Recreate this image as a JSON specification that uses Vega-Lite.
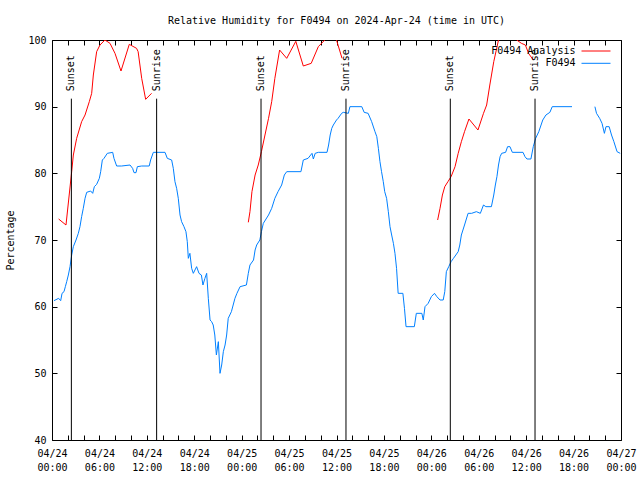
{
  "$schema": "https://vega.github.io/schema/vega-lite/v6.json",
  "width": 569,
  "height": 400,
  "autosize": {"type": "none"},
  "padding": {"left": 52, "top": 40, "right": 19, "bottom": 40},
  "background": "white",
  "title": {"text": "Relative Humidity for F0494 on 2024-Apr-24 (time in UTC)", "font": "DejaVu Sans Mono", "fontSize": 10, "fontWeight": "normal", "anchor": "middle", "offset": 9, "color": "black"},
  "config": {
    "view": {"stroke": "black", "strokeWidth": 1},
    "axis": {"grid": false, "domain": false, "labelFont": "DejaVu Sans Mono", "labelFontSize": 10, "labelColor": "black", "titleFont": "DejaVu Sans Mono", "titleFontSize": 10, "titleFontWeight": "normal", "titleColor": "black", "tickColor": "black", "tickWidth": 1},
    "legend": {"orient": "none", "legendX": 538.5, "legendY": 5.5, "symbolType": "M-2.9,0L2.9,0", "symbolSize": 100, "symbolStrokeWidth": 1, "labelAlign": "right", "labelOffset": -26, "labelFont": "DejaVu Sans Mono", "labelFontSize": 10, "labelColor": "black", "rowPadding": 1.3, "padding": 0}
  },
  "datasets": {
    "series": [
      {"s": "F0494", "g": "b1", "h": 0.25, "v": 60.9}, {"s": "F0494", "g": "b1", "h": 0.84, "v": 61.25}, {"s": "F0494", "g": "b1", "h": 1.1, "v": 60.9}, {"s": "F0494", "g": "b1", "h": 1.27, "v": 62},
      {"s": "F0494", "g": "b1", "h": 1.52, "v": 62.25}, {"s": "F0494", "g": "b1", "h": 1.69, "v": 63}, {"s": "F0494", "g": "b1", "h": 1.86, "v": 63.75}, {"s": "F0494", "g": "b1", "h": 2.07, "v": 64.75},
      {"s": "F0494", "g": "b1", "h": 2.28, "v": 66}, {"s": "F0494", "g": "b1", "h": 2.49, "v": 67.75}, {"s": "F0494", "g": "b1", "h": 2.7, "v": 69}, {"s": "F0494", "g": "b1", "h": 3.04, "v": 70},
      {"s": "F0494", "g": "b1", "h": 3.33, "v": 71}, {"s": "F0494", "g": "b1", "h": 3.54, "v": 72}, {"s": "F0494", "g": "b1", "h": 3.75, "v": 73.5}, {"s": "F0494", "g": "b1", "h": 3.96, "v": 74.75},
      {"s": "F0494", "g": "b1", "h": 4.18, "v": 76.25}, {"s": "F0494", "g": "b1", "h": 4.39, "v": 77.15}, {"s": "F0494", "g": "b1", "h": 4.89, "v": 77.35}, {"s": "F0494", "g": "b1", "h": 5.15, "v": 77},
      {"s": "F0494", "g": "b1", "h": 5.36, "v": 78}, {"s": "F0494", "g": "b1", "h": 5.65, "v": 78.35}, {"s": "F0494", "g": "b1", "h": 5.99, "v": 79.25}, {"s": "F0494", "g": "b1", "h": 6.16, "v": 80.25},
      {"s": "F0494", "g": "b1", "h": 6.37, "v": 82}, {"s": "F0494", "g": "b1", "h": 6.58, "v": 82.25}, {"s": "F0494", "g": "b1", "h": 7.0, "v": 83}, {"s": "F0494", "g": "b1", "h": 7.68, "v": 83.15},
      {"s": "F0494", "g": "b1", "h": 7.84, "v": 82.25}, {"s": "F0494", "g": "b1", "h": 8.18, "v": 81.1}, {"s": "F0494", "g": "b1", "h": 8.81, "v": 81.1}, {"s": "F0494", "g": "b1", "h": 9.87, "v": 81.25},
      {"s": "F0494", "g": "b1", "h": 10.2, "v": 80.75}, {"s": "F0494", "g": "b1", "h": 10.38, "v": 80.1}, {"s": "F0494", "g": "b1", "h": 10.63, "v": 80.1}, {"s": "F0494", "g": "b1", "h": 10.8, "v": 81},
      {"s": "F0494", "g": "b1", "h": 11.35, "v": 81.1}, {"s": "F0494", "g": "b1", "h": 12.3, "v": 81.1}, {"s": "F0494", "g": "b1", "h": 12.48, "v": 82}, {"s": "F0494", "g": "b1", "h": 12.82, "v": 83.15},
      {"s": "F0494", "g": "b1", "h": 14.3, "v": 83.15}, {"s": "F0494", "g": "b1", "h": 14.59, "v": 82.25}, {"s": "F0494", "g": "b1", "h": 15.14, "v": 82}, {"s": "F0494", "g": "b1", "h": 15.35, "v": 80.75},
      {"s": "F0494", "g": "b1", "h": 15.56, "v": 78.75}, {"s": "F0494", "g": "b1", "h": 15.77, "v": 77.75}, {"s": "F0494", "g": "b1", "h": 15.98, "v": 76.25}, {"s": "F0494", "g": "b1", "h": 16.2, "v": 73.75},
      {"s": "F0494", "g": "b1", "h": 16.4, "v": 72.75}, {"s": "F0494", "g": "b1", "h": 16.7, "v": 72}, {"s": "F0494", "g": "b1", "h": 16.95, "v": 71.25}, {"s": "F0494", "g": "b1", "h": 17.12, "v": 69.75},
      {"s": "F0494", "g": "b1", "h": 17.25, "v": 67.25}, {"s": "F0494", "g": "b1", "h": 17.45, "v": 68}, {"s": "F0494", "g": "b1", "h": 17.67, "v": 65.75}, {"s": "F0494", "g": "b1", "h": 17.88, "v": 65},
      {"s": "F0494", "g": "b1", "h": 18.3, "v": 66}, {"s": "F0494", "g": "b1", "h": 18.6, "v": 65}, {"s": "F0494", "g": "b1", "h": 18.9, "v": 64.75}, {"s": "F0494", "g": "b1", "h": 19.1, "v": 63.25},
      {"s": "F0494", "g": "b1", "h": 19.35, "v": 64.25}, {"s": "F0494", "g": "b1", "h": 19.57, "v": 65}, {"s": "F0494", "g": "b1", "h": 19.78, "v": 61.25}, {"s": "F0494", "g": "b1", "h": 20.0, "v": 58},
      {"s": "F0494", "g": "b1", "h": 20.2, "v": 57.75}, {"s": "F0494", "g": "b1", "h": 20.4, "v": 57.25}, {"s": "F0494", "g": "b1", "h": 20.6, "v": 55.75}, {"s": "F0494", "g": "b1", "h": 20.8, "v": 52.75},
      {"s": "F0494", "g": "b1", "h": 21.05, "v": 54.75}, {"s": "F0494", "g": "b1", "h": 21.26, "v": 50}, {"s": "F0494", "g": "b1", "h": 21.47, "v": 51.25}, {"s": "F0494", "g": "b1", "h": 21.68, "v": 53.25},
      {"s": "F0494", "g": "b1", "h": 21.9, "v": 54.25}, {"s": "F0494", "g": "b1", "h": 22.1, "v": 55.75}, {"s": "F0494", "g": "b1", "h": 22.3, "v": 58.25}, {"s": "F0494", "g": "b1", "h": 22.7, "v": 59.25},
      {"s": "F0494", "g": "b1", "h": 23.15, "v": 61.25}, {"s": "F0494", "g": "b1", "h": 23.4, "v": 62}, {"s": "F0494", "g": "b1", "h": 23.8, "v": 63}, {"s": "F0494", "g": "b1", "h": 24.6, "v": 63.25},
      {"s": "F0494", "g": "b1", "h": 24.84, "v": 65}, {"s": "F0494", "g": "b1", "h": 25.05, "v": 66.25}, {"s": "F0494", "g": "b1", "h": 25.5, "v": 67}, {"s": "F0494", "g": "b1", "h": 25.7, "v": 68.5},
      {"s": "F0494", "g": "b1", "h": 25.9, "v": 69.25}, {"s": "F0494", "g": "b1", "h": 26.3, "v": 70}, {"s": "F0494", "g": "b1", "h": 26.5, "v": 71.25}, {"s": "F0494", "g": "b1", "h": 26.74, "v": 72.5},
      {"s": "F0494", "g": "b1", "h": 27.4, "v": 73.75}, {"s": "F0494", "g": "b1", "h": 27.8, "v": 74.75}, {"s": "F0494", "g": "b1", "h": 28.2, "v": 76.25}, {"s": "F0494", "g": "b1", "h": 28.6, "v": 77.25},
      {"s": "F0494", "g": "b1", "h": 29.06, "v": 78.25}, {"s": "F0494", "g": "b1", "h": 29.4, "v": 79.75}, {"s": "F0494", "g": "b1", "h": 29.7, "v": 80.25}, {"s": "F0494", "g": "b1", "h": 31.5, "v": 80.25},
      {"s": "F0494", "g": "b1", "h": 31.8, "v": 82}, {"s": "F0494", "g": "b1", "h": 32.4, "v": 82.25}, {"s": "F0494", "g": "b1", "h": 32.9, "v": 83}, {"s": "F0494", "g": "b1", "h": 33.07, "v": 82.15},
      {"s": "F0494", "g": "b1", "h": 33.3, "v": 83}, {"s": "F0494", "g": "b1", "h": 33.7, "v": 83.15}, {"s": "F0494", "g": "b1", "h": 34.8, "v": 83.15}, {"s": "F0494", "g": "b1", "h": 35.0, "v": 84.25},
      {"s": "F0494", "g": "b1", "h": 35.2, "v": 85.75}, {"s": "F0494", "g": "b1", "h": 35.4, "v": 86.75}, {"s": "F0494", "g": "b1", "h": 35.6, "v": 87.25}, {"s": "F0494", "g": "b1", "h": 36.0, "v": 88},
      {"s": "F0494", "g": "b1", "h": 36.2, "v": 88.25}, {"s": "F0494", "g": "b1", "h": 36.65, "v": 89}, {"s": "F0494", "g": "b1", "h": 36.86, "v": 89.15}, {"s": "F0494", "g": "b1", "h": 37.5, "v": 89},
      {"s": "F0494", "g": "b1", "h": 37.7, "v": 90}, {"s": "F0494", "g": "b1", "h": 39.2, "v": 90}, {"s": "F0494", "g": "b1", "h": 39.5, "v": 89.15}, {"s": "F0494", "g": "b1", "h": 40.0, "v": 89},
      {"s": "F0494", "g": "b1", "h": 40.45, "v": 87.75}, {"s": "F0494", "g": "b1", "h": 40.87, "v": 86.25}, {"s": "F0494", "g": "b1", "h": 41.1, "v": 85.5}, {"s": "F0494", "g": "b1", "h": 41.3, "v": 83.75},
      {"s": "F0494", "g": "b1", "h": 41.5, "v": 81.75}, {"s": "F0494", "g": "b1", "h": 41.7, "v": 80.25}, {"s": "F0494", "g": "b1", "h": 41.92, "v": 78.75}, {"s": "F0494", "g": "b1", "h": 42.1, "v": 77.25},
      {"s": "F0494", "g": "b1", "h": 42.34, "v": 76.25}, {"s": "F0494", "g": "b1", "h": 42.56, "v": 74.25}, {"s": "F0494", "g": "b1", "h": 42.77, "v": 72}, {"s": "F0494", "g": "b1", "h": 42.98, "v": 70.75},
      {"s": "F0494", "g": "b1", "h": 43.2, "v": 69.5}, {"s": "F0494", "g": "b1", "h": 43.4, "v": 68}, {"s": "F0494", "g": "b1", "h": 43.6, "v": 65.75}, {"s": "F0494", "g": "b1", "h": 43.8, "v": 62},
      {"s": "F0494", "g": "b1", "h": 44.4, "v": 62}, {"s": "F0494", "g": "b1", "h": 44.6, "v": 59.75}, {"s": "F0494", "g": "b1", "h": 44.8, "v": 57}, {"s": "F0494", "g": "b1", "h": 45.85, "v": 57},
      {"s": "F0494", "g": "b1", "h": 46.1, "v": 59}, {"s": "F0494", "g": "b1", "h": 46.8, "v": 59}, {"s": "F0494", "g": "b1", "h": 46.98, "v": 58}, {"s": "F0494", "g": "b1", "h": 47.2, "v": 60},
      {"s": "F0494", "g": "b1", "h": 47.6, "v": 60.5}, {"s": "F0494", "g": "b1", "h": 48.0, "v": 61.5}, {"s": "F0494", "g": "b1", "h": 48.4, "v": 62}, {"s": "F0494", "g": "b1", "h": 48.7, "v": 61.5},
      {"s": "F0494", "g": "b1", "h": 49.1, "v": 61}, {"s": "F0494", "g": "b1", "h": 49.5, "v": 61}, {"s": "F0494", "g": "b1", "h": 49.7, "v": 62.25}, {"s": "F0494", "g": "b1", "h": 49.9, "v": 65.25},
      {"s": "F0494", "g": "b1", "h": 50.2, "v": 66}, {"s": "F0494", "g": "b1", "h": 50.5, "v": 66.75}, {"s": "F0494", "g": "b1", "h": 50.8, "v": 67.25}, {"s": "F0494", "g": "b1", "h": 51.1, "v": 67.75},
      {"s": "F0494", "g": "b1", "h": 51.4, "v": 68.25}, {"s": "F0494", "g": "b1", "h": 51.6, "v": 69.25}, {"s": "F0494", "g": "b1", "h": 51.8, "v": 70.75}, {"s": "F0494", "g": "b1", "h": 52.2, "v": 72.25},
      {"s": "F0494", "g": "b1", "h": 52.65, "v": 74}, {"s": "F0494", "g": "b1", "h": 53.1, "v": 74}, {"s": "F0494", "g": "b1", "h": 53.7, "v": 74.25}, {"s": "F0494", "g": "b1", "h": 54.2, "v": 74},
      {"s": "F0494", "g": "b1", "h": 54.6, "v": 75.25}, {"s": "F0494", "g": "b1", "h": 54.9, "v": 75}, {"s": "F0494", "g": "b1", "h": 55.6, "v": 75}, {"s": "F0494", "g": "b1", "h": 55.9, "v": 76.75},
      {"s": "F0494", "g": "b1", "h": 56.1, "v": 78.25}, {"s": "F0494", "g": "b1", "h": 56.3, "v": 79.5}, {"s": "F0494", "g": "b1", "h": 56.5, "v": 81.25}, {"s": "F0494", "g": "b1", "h": 56.7, "v": 82.5},
      {"s": "F0494", "g": "b1", "h": 56.9, "v": 83}, {"s": "F0494", "g": "b1", "h": 57.4, "v": 83.15}, {"s": "F0494", "g": "b1", "h": 57.65, "v": 84}, {"s": "F0494", "g": "b1", "h": 57.95, "v": 84},
      {"s": "F0494", "g": "b1", "h": 58.25, "v": 83.15}, {"s": "F0494", "g": "b1", "h": 59.6, "v": 83.15}, {"s": "F0494", "g": "b1", "h": 59.85, "v": 82.5}, {"s": "F0494", "g": "b1", "h": 60.1, "v": 82.15},
      {"s": "F0494", "g": "b1", "h": 60.6, "v": 82.15}, {"s": "F0494", "g": "b1", "h": 60.9, "v": 84}, {"s": "F0494", "g": "b1", "h": 61.2, "v": 85.25}, {"s": "F0494", "g": "b1", "h": 61.6, "v": 86.25},
      {"s": "F0494", "g": "b1", "h": 62.1, "v": 88}, {"s": "F0494", "g": "b1", "h": 62.5, "v": 88.75}, {"s": "F0494", "g": "b1", "h": 63.0, "v": 89.15}, {"s": "F0494", "g": "b1", "h": 63.3, "v": 90},
      {"s": "F0494", "g": "b1", "h": 65.8, "v": 90},
      {"s": "F0494", "g": "b2", "h": 68.7, "v": 90}, {"s": "F0494", "g": "b2", "h": 68.9, "v": 89}, {"s": "F0494", "g": "b2", "h": 69.3, "v": 88.25}, {"s": "F0494", "g": "b2", "h": 69.6, "v": 87.5},
      {"s": "F0494", "g": "b2", "h": 69.9, "v": 86}, {"s": "F0494", "g": "b2", "h": 70.1, "v": 87}, {"s": "F0494", "g": "b2", "h": 70.5, "v": 87}, {"s": "F0494", "g": "b2", "h": 70.8, "v": 85.75},
      {"s": "F0494", "g": "b2", "h": 71.1, "v": 84.75}, {"s": "F0494", "g": "b2", "h": 71.5, "v": 83.25}, {"s": "F0494", "g": "b2", "h": 71.9, "v": 83},
      {"s": "F0494 Analysis", "g": "r1", "h": 0.84, "v": 73.15}, {"s": "F0494 Analysis", "g": "r1", "h": 1.77, "v": 72.25}, {"s": "F0494 Analysis", "g": "r1", "h": 2.49, "v": 80.25}, {"s": "F0494 Analysis", "g": "r1", "h": 2.7, "v": 82.75},
      {"s": "F0494 Analysis", "g": "r1", "h": 3.12, "v": 85.25}, {"s": "F0494 Analysis", "g": "r1", "h": 3.75, "v": 87.75}, {"s": "F0494 Analysis", "g": "r1", "h": 4.18, "v": 88.75}, {"s": "F0494 Analysis", "g": "r1", "h": 4.72, "v": 90.75},
      {"s": "F0494 Analysis", "g": "r1", "h": 5.02, "v": 92}, {"s": "F0494 Analysis", "g": "r1", "h": 5.23, "v": 94.75}, {"s": "F0494 Analysis", "g": "r1", "h": 5.65, "v": 98.25}, {"s": "F0494 Analysis", "g": "r1", "h": 6.07, "v": 99.25},
      {"s": "F0494 Analysis", "g": "r1", "h": 6.7, "v": 100}, {"s": "F0494 Analysis", "g": "r1", "h": 7.34, "v": 99.5}, {"s": "F0494 Analysis", "g": "r1", "h": 7.97, "v": 98}, {"s": "F0494 Analysis", "g": "r1", "h": 8.73, "v": 95.35},
      {"s": "F0494 Analysis", "g": "r1", "h": 9.78, "v": 99.35}, {"s": "F0494 Analysis", "g": "r1", "h": 10.7, "v": 98.75}, {"s": "F0494 Analysis", "g": "r1", "h": 10.9, "v": 98.25}, {"s": "F0494 Analysis", "g": "r1", "h": 11.35, "v": 94.25},
      {"s": "F0494 Analysis", "g": "r1", "h": 11.85, "v": 91.1}, {"s": "F0494 Analysis", "g": "r1", "h": 12.6, "v": 92},
      {"s": "F0494 Analysis", "g": "r2", "h": 24.84, "v": 72.65}, {"s": "F0494 Analysis", "g": "r2", "h": 25.05, "v": 74.25}, {"s": "F0494 Analysis", "g": "r2", "h": 25.3, "v": 77.25}, {"s": "F0494 Analysis", "g": "r2", "h": 25.7, "v": 79.75},
      {"s": "F0494 Analysis", "g": "r2", "h": 26.1, "v": 81.25}, {"s": "F0494 Analysis", "g": "r2", "h": 26.5, "v": 83.25}, {"s": "F0494 Analysis", "g": "r2", "h": 26.95, "v": 85.75}, {"s": "F0494 Analysis", "g": "r2", "h": 27.4, "v": 88.25},
      {"s": "F0494 Analysis", "g": "r2", "h": 27.8, "v": 90.75}, {"s": "F0494 Analysis", "g": "r2", "h": 28.2, "v": 94.25}, {"s": "F0494 Analysis", "g": "r2", "h": 28.8, "v": 98.5}, {"s": "F0494 Analysis", "g": "r2", "h": 29.7, "v": 97.25},
      {"s": "F0494 Analysis", "g": "r2", "h": 30.85, "v": 99.8}, {"s": "F0494 Analysis", "g": "r2", "h": 31.8, "v": 96.1}, {"s": "F0494 Analysis", "g": "r2", "h": 32.8, "v": 96.5}, {"s": "F0494 Analysis", "g": "r2", "h": 33.7, "v": 99},
      {"s": "F0494 Analysis", "g": "r2", "h": 34.6, "v": 100.1}, {"s": "F0494 Analysis", "g": "r2", "h": 35.3, "v": 100.5}, {"s": "F0494 Analysis", "g": "r2", "h": 36.0, "v": 100}, {"s": "F0494 Analysis", "g": "r2", "h": 36.7, "v": 97.25},
      {"s": "F0494 Analysis", "g": "r3", "h": 48.8, "v": 73}, {"s": "F0494 Analysis", "g": "r3", "h": 49.1, "v": 74.75}, {"s": "F0494 Analysis", "g": "r3", "h": 49.4, "v": 76.75}, {"s": "F0494 Analysis", "g": "r3", "h": 49.7, "v": 78},
      {"s": "F0494 Analysis", "g": "r3", "h": 50.1, "v": 78.75}, {"s": "F0494 Analysis", "g": "r3", "h": 50.5, "v": 79.5}, {"s": "F0494 Analysis", "g": "r3", "h": 51.0, "v": 81}, {"s": "F0494 Analysis", "g": "r3", "h": 51.4, "v": 83},
      {"s": "F0494 Analysis", "g": "r3", "h": 51.8, "v": 84.75}, {"s": "F0494 Analysis", "g": "r3", "h": 52.2, "v": 86.25}, {"s": "F0494 Analysis", "g": "r3", "h": 52.76, "v": 88.15}, {"s": "F0494 Analysis", "g": "r3", "h": 53.9, "v": 86.5},
      {"s": "F0494 Analysis", "g": "r3", "h": 54.6, "v": 89}, {"s": "F0494 Analysis", "g": "r3", "h": 55.0, "v": 90.25}, {"s": "F0494 Analysis", "g": "r3", "h": 55.4, "v": 93.25}, {"s": "F0494 Analysis", "g": "r3", "h": 55.9, "v": 96.75},
      {"s": "F0494 Analysis", "g": "r3", "h": 56.5, "v": 100}, {"s": "F0494 Analysis", "g": "r3", "h": 57.6, "v": 101.5}, {"s": "F0494 Analysis", "g": "r3", "h": 58.8, "v": 100}, {"s": "F0494 Analysis", "g": "r3", "h": 59.4, "v": 99.5},
      {"s": "F0494 Analysis", "g": "r3", "h": 59.9, "v": 99.25}, {"s": "F0494 Analysis", "g": "r3", "h": 60.3, "v": 98}, {"s": "F0494 Analysis", "g": "r3", "h": 60.9, "v": 97}
    ],
    "sun": [
      {"label": "Sunset", "h": 2.45}, {"label": "Sunrise", "h": 13.24},
      {"label": "Sunset", "h": 26.45}, {"label": "Sunrise", "h": 37.2},
      {"label": "Sunset", "h": 50.4}, {"label": "Sunrise", "h": 61.12}
    ]
  },
  "layer": [
    {
      "data": {"name": "series"},
      "mark": {"type": "line", "clip": true, "strokeWidth": 1},
      "encoding": {
        "x": {"field": "h", "type": "quantitative", "scale": {"domain": [0, 72], "nice": false, "zero": false},
          "axis": {"orient": "bottom", "values": [0, 6, 12, 18, 24, 30, 36, 42, 48, 54, 60, 66, 72], "ticks": false, "labelPadding": 8, "labelBaseline": "top", "labelLineHeight": 14, "labelFlush": false, "labelOverlap": false, "labelAlign": "center", "title": null,
            "labelExpr": "['04/' + (24 + floor(datum.value / 24)), (datum.value % 24 < 10 ? '0' : '') + (datum.value % 24) + ':00']"}},
        "y": {"field": "v", "type": "quantitative", "scale": {"domain": [40, 100], "nice": false, "zero": false},
          "axis": {"orient": "left", "values": [40, 50, 60, 70, 80, 90, 100], "ticks": false, "labelPadding": 6, "title": "Percentage", "titlePadding": 12}},
        "color": {"field": "s", "type": "nominal", "scale": {"domain": ["F0494 Analysis", "F0494"], "range": ["#ff0000", "#0080ff"]}, "legend": {"title": null}},
        "detail": {"field": "g"}
      }
    },
    {
      "data": {"name": "sun"},
      "mark": {"type": "rule", "color": "black", "strokeWidth": 1},
      "encoding": {
        "x": {"field": "h", "type": "quantitative", "scale": {"domain": [0, 72], "nice": false, "zero": false},
          "axis": {"orient": "bottom", "values": [0, 2, 4, 6, 8, 10, 12, 14, 16, 18, 20, 22, 24, 26, 28, 30, 32, 34, 36, 38, 40, 42, 44, 46, 48, 50, 52, 54, 56, 58, 60, 62, 64, 66, 68, 70, 72], "labels": false, "offset": -5, "tickSize": 5, "title": null}},
        "y": {"datum": 91.2, "type": "quantitative", "scale": {"domain": [40, 100], "nice": false, "zero": false},
          "axis": {"orient": "left", "values": [40, 50, 60, 70, 80, 90, 100], "labels": false, "offset": -5, "tickSize": 5, "title": null}},
        "y2": {"datum": 40}
      }
    },
    {
      "data": {"name": "sun"},
      "mark": {"type": "text", "angle": 270, "align": "left", "baseline": "middle", "font": "DejaVu Sans Mono", "fontSize": 10, "color": "black"},
      "encoding": {
        "x": {"field": "h", "type": "quantitative", "scale": {"domain": [0, 72], "nice": false, "zero": false},
          "axis": {"orient": "top", "values": [0, 2, 4, 6, 8, 10, 12, 14, 16, 18, 20, 22, 24, 26, 28, 30, 32, 34, 36, 38, 40, 42, 44, 46, 48, 50, 52, 54, 56, 58, 60, 62, 64, 66, 68, 70, 72], "labels": false, "offset": -5, "tickSize": 5, "title": null}},
        "y": {"datum": 92.3, "type": "quantitative", "scale": {"domain": [40, 100], "nice": false, "zero": false},
          "axis": {"orient": "right", "values": [40, 50, 60, 70, 80, 90, 100], "labels": false, "offset": -5, "tickSize": 5, "title": null}},
        "text": {"field": "label"}
      }
    }
  ],
  "resolve": {"axis": {"x": "independent", "y": "independent"}}
}
